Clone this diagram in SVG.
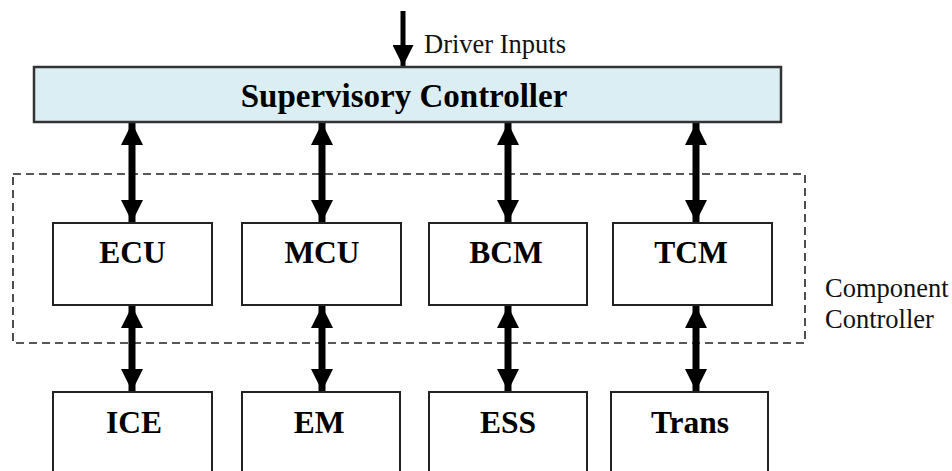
<svg xmlns="http://www.w3.org/2000/svg" width="952" height="471" viewBox="0 0 952 471">
  <defs>
    <style>
      text { font-family: 'Liberation Serif', 'DejaVu Serif', 'Times New Roman', serif; }
      .box { fill: #ffffff; stroke: #222; stroke-width: 2; }
      .sup { fill: #dbeef4; stroke: #333; stroke-width: 2.5; }
      .lbl { font-weight: bold; font-size: 31.5px; fill: #000; text-anchor: middle; }
      .title { font-weight: bold; font-size: 33px; fill: #000; text-anchor: middle; }
      .note { font-size: 26.5px; fill: #111; }
      .link { stroke: #000; stroke-width: 7; fill: none; marker-start: url(#head); marker-end: url(#head); }
      .dash { fill: none; stroke: #222; stroke-width: 1.6; stroke-dasharray: 8 5; }
    </style>
    <marker id="head" viewBox="0 0 10 10" refX="10" refY="5" markerWidth="3.2" markerHeight="3.2" orient="auto-start-reverse" markerUnits="strokeWidth">
      <path d="M0,0 L10,5 L0,10 Z" fill="#000"/>
    </marker>
    <marker id="tip" viewBox="0 0 10 10" refX="10" refY="5" markerWidth="4.2" markerHeight="4.2" orient="auto" markerUnits="strokeWidth">
      <path d="M0,0 L10,5 L0,10 Z" fill="#000"/>
    </marker>
  </defs>

  <!-- component controller boundary -->
  <rect class="dash" x="13" y="174" width="792" height="169"/>

  <g id="connectors">
    <line x1="403" y1="11" x2="403" y2="66" stroke="#000" stroke-width="5" marker-end="url(#tip)"/>
    <line class="link" x1="132" y1="123" x2="132" y2="222"/>
    <line class="link" x1="322" y1="123" x2="322" y2="222"/>
    <line class="link" x1="508" y1="123" x2="508" y2="222"/>
    <line class="link" x1="696" y1="123" x2="696" y2="222"/>
    <line class="link" x1="132" y1="306" x2="132" y2="391"/>
    <line class="link" x1="322" y1="306" x2="322" y2="391"/>
    <line class="link" x1="508" y1="306" x2="508" y2="391"/>
    <line class="link" x1="696" y1="306" x2="696" y2="391"/>
  </g>

  <text class="note" x="424" y="53" font-size="27">Driver Inputs</text>

  <g id="supervisory">
    <rect class="sup" x="34" y="67" width="747" height="55"/>
    <text class="title" x="404" y="107">Supervisory Controller</text>
  </g>

  <g id="ecu"><rect class="box" x="53" y="223" width="159" height="82"/><text class="lbl" x="132.5" y="263">ECU</text></g>
  <g id="mcu"><rect class="box" x="242" y="223" width="159" height="82"/><text class="lbl" x="322" y="263">MCU</text></g>
  <g id="bcm"><rect class="box" x="429" y="223" width="158" height="82"/><text class="lbl" x="506" y="263">BCM</text></g>
  <g id="tcm"><rect class="box" x="613" y="223" width="159" height="82"/><text class="lbl" x="691" y="263">TCM</text></g>

  <g id="ice"><rect class="box" x="53" y="392" width="159" height="100"/><text class="lbl" x="134" y="433">ICE</text></g>
  <g id="em"><rect class="box" x="242" y="392" width="158" height="100"/><text class="lbl" x="319" y="433">EM</text></g>
  <g id="ess"><rect class="box" x="429" y="392" width="158" height="100"/><text class="lbl" x="508" y="433">ESS</text></g>
  <g id="trans"><rect class="box" x="611" y="392" width="157" height="100"/><text class="lbl" x="690" y="433">Trans</text></g>

  <text class="note" x="825" y="297">Component</text>
  <text class="note" x="825" y="328">Controller</text>
</svg>
